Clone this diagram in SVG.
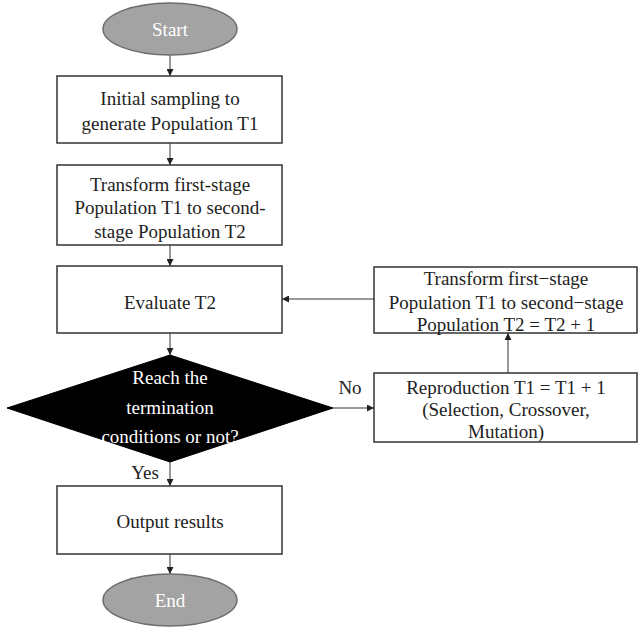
<svg xmlns="http://www.w3.org/2000/svg" width="638" height="629" viewBox="0 0 638 629">
<defs>
<marker id="ah" viewBox="0 0 10 10" refX="10" refY="5" markerWidth="7" markerHeight="7" orient="auto" markerUnits="userSpaceOnUse">
<path d="M0,0 L10,5 L0,10 z" fill="#222"/>
</marker>
<style>
.box{fill:#fff;stroke:#333;stroke-width:1.5}
.term{fill:#a3a3a3;stroke:#6e6e6e;stroke-width:1.5}
.t{font-family:"Liberation Serif","Times New Roman",serif;font-size:19px;fill:#222;text-anchor:middle}
.w{fill:#fff}
.c{stroke:#333;stroke-width:1;fill:none;marker-end:url(#ah)}
</style>
</defs>
<rect width="638" height="629" fill="#fff"/>
<g id="connectors">
<line class="c" x1="170" y1="55" x2="170" y2="76"/>
<line class="c" x1="170" y1="143" x2="170" y2="165"/>
<line class="c" x1="170" y1="245" x2="170" y2="266"/>
<line class="c" x1="170" y1="333" x2="170" y2="355"/>
<line class="c" x1="170" y1="462" x2="170" y2="486"/>
<line class="c" x1="170" y1="554" x2="170" y2="574"/>
<line class="c" x1="333" y1="408" x2="374" y2="408"/>
<line class="c" x1="508" y1="373" x2="508" y2="333"/>
<line class="c" x1="374" y1="299" x2="282" y2="299"/>
<text class="t" x="350" y="394">No</text>
<text class="t" x="145" y="479">Yes</text>
</g>
<g id="start">
<ellipse class="term" cx="170" cy="29" rx="67" ry="26"/>
<text class="t w" x="170" y="36">Start</text>
</g>
<g id="init">
<rect class="box" x="57" y="76" width="225" height="67"/>
<text class="t" x="170" y="105">Initial sampling to</text>
<text class="t" x="170" y="130">generate Population T1</text>
</g>
<g id="transform1">
<rect class="box" x="57" y="165" width="225" height="80"/>
<text class="t" x="170" y="191">Transform first-stage</text>
<text class="t" x="170" y="214">Population T1 to second-</text>
<text class="t" x="170" y="238">stage Population T2</text>
</g>
<g id="evaluate">
<rect class="box" x="57" y="266" width="225" height="67"/>
<text class="t" x="170" y="309">Evaluate T2</text>
</g>
<g id="decision">
<polygon points="170,355 333,408 170,462 7,408" fill="#000" stroke="#000"/>
<text class="t w" x="170" y="384">Reach the</text>
<text class="t w" x="170" y="414">termination</text>
<text class="t w" x="170" y="443">conditions or not?</text>
</g>
<g id="transform2">
<rect class="box" x="374" y="267" width="263" height="66"/>
<text class="t" x="506" y="285">Transform first−stage</text>
<text class="t" x="506" y="309">Population T1 to second−stage</text>
<text class="t" x="506" y="331">Population T2 = T2 + 1</text>
</g>
<g id="reproduction">
<rect class="box" x="374" y="373" width="263" height="69"/>
<text class="t" x="506" y="394">Reproduction T1 = T1 + 1</text>
<text class="t" x="506" y="416">(Selection, Crossover,</text>
<text class="t" x="506" y="438">Mutation)</text>
</g>
<g id="output">
<rect class="box" x="57" y="486" width="225" height="68"/>
<text class="t" x="170" y="528">Output results</text>
</g>
<g id="end">
<ellipse class="term" cx="170" cy="600" rx="67" ry="26"/>
<text class="t w" x="170" y="607">End</text>
</g>
</svg>
